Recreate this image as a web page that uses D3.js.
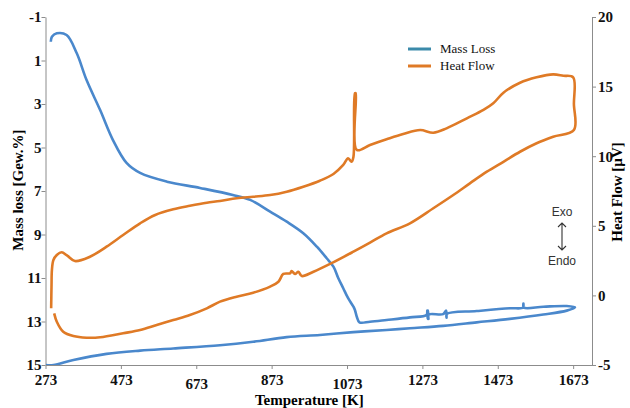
<!DOCTYPE html>
<html>
<head>
<meta charset="utf-8">
<script src="https://cdn.jsdelivr.net/npm/d3@7"></script>
<style>
  body { margin: 0; background: #fff; }
  .axis path, .axis line { stroke: #8c8c8c; }
  .axis text { font-family: "Liberation Serif", "Times New Roman", serif; font-weight: bold; font-size: 15px; fill: #111; }
</style>
</head>
<body>
<svg id="chart"></svg>
<script>
// mass loss run (temperature K -> mass loss Gew.%)
const massTemp = [287, 290, 303, 329, 356, 382, 418, 452, 488, 524, 595, 683, 770, 816, 869, 913, 957, 993, 1019, 1037, 1050, 1063, 1076, 1090, 1094, 1099, 1106, 1134, 1178, 1240, 1284, 1286, 1287, 1288, 1289, 1290, 1328, 1336, 1337, 1338, 1417, 1505, 1540, 1541, 1542, 1594, 1656, 1678,
  1656, 1594, 1505, 1417, 1328, 1240, 1178, 1090, 1001, 913, 824, 736, 612, 524, 435, 347, 294, 274];
const massLoss = [0.14, -0.09, -0.25, -0.17, 0.67, 1.90, 3.28, 4.66, 5.71, 6.17, 6.57, 6.86, 7.18, 7.41, 7.95, 8.41, 8.94, 9.56, 10.09, 10.48, 11.01, 11.47, 11.93, 12.32, 12.47, 12.78, 13.04, 13.01, 12.93, 12.81, 12.70, 12.50, 12.88, 12.50, 12.88, 12.68, 12.66, 12.50, 12.82, 12.65, 12.52, 12.39, 12.36, 12.18, 12.36, 12.32, 12.29, 12.35,
  12.50, 12.68, 12.88, 13.04, 13.20, 13.31, 13.39, 13.49, 13.62, 13.72, 13.93, 14.09, 14.24, 14.34, 14.49, 14.77, 15.0, 15.0];

// heat flow run (temperature K -> µV)
const heatTemp = [288, 289, 290, 294, 303, 316, 330, 351, 391, 435, 479, 524, 564, 612, 656, 701, 736, 780, 824, 869, 913, 957, 1001, 1037, 1063, 1076, 1085, 1090, 1094, 1096, 1099, 1134, 1178, 1222, 1267, 1302, 1337, 1391, 1435, 1461, 1488, 1532, 1576, 1620, 1647, 1673, 1675, 1675,
  1620, 1576, 1532, 1488, 1444, 1399, 1355, 1302, 1240, 1178, 1134, 1090, 1028, 984, 953, 944, 935, 926, 922, 904, 891, 869, 824, 780, 736, 701, 656, 612, 568, 524, 479, 418, 382, 347, 320, 303, 296];
const heatFlow = [-0.93, 0.75, 1.82, 2.54, 2.90, 3.10, 2.87, 2.47, 2.78, 3.50, 4.34, 5.18, 5.78, 6.19, 6.44, 6.66, 6.78, 6.98, 7.09, 7.21, 7.45, 7.81, 8.24, 8.72, 9.37, 9.85, 9.60, 9.94, 14.52, 14.52, 10.45, 10.80, 11.21, 11.59, 11.88, 11.69, 12.00, 12.72, 13.32, 13.80, 14.56, 15.28, 15.67, 15.88, 15.78, 15.67, 13.75, 11.88,
  11.40, 10.93, 10.32, 9.60, 8.89, 8.05, 7.21, 6.26, 5.18, 4.46, 3.79, 3.14, 2.26, 1.70, 1.39, 1.70, 1.54, 1.75, 1.59, 1.54, 0.98, 0.63, 0.19, -0.09, -0.45, -0.93, -1.41, -1.77, -2.13, -2.49, -2.72, -3.01, -3.04, -2.92, -2.61, -1.89, -1.29];

const xTicks = [273, 473, 673, 873, 1073, 1273, 1473, 1673];
const leftTicks = [-1, 1, 3, 5, 7, 9, 11, 13, 15];
const rightTicks = [-5, 0, 5, 10, 15, 20];
const seriesNames = ["Mass Loss", "Heat Flow"];

const width = 630, height = 408;
const margin = { left: 45.5, right: 592, top: 17, bottom: 365 };

const svg = d3.select("#chart").attr("width", width).attr("height", height);

const x = d3.scaleLinear().domain([273, 1723]).range([margin.left, margin.right]);
const yL = d3.scaleLinear().domain([-1, 15]).range([margin.top, margin.bottom]);
const yR = d3.scaleLinear().domain([-5, 20]).range([margin.bottom, margin.top]);

const plain = d => String(d);

// axes
const xAxisG = svg.append("g").attr("class", "axis")
  .attr("transform", `translate(0,${margin.bottom})`)
  .call(d3.axisBottom(x).tickValues(xTicks).tickFormat(plain).tickSize(4).tickSizeOuter(0));
// labels 673 and 1073 sit a bit lower in the original
xAxisG.selectAll("text").attr("dy", d => (d === 673 || d === 1073) ? "1.1em" : "0.85em");

svg.append("g").attr("class", "axis")
  .attr("transform", `translate(${margin.left},0)`)
  .call(d3.axisLeft(yL).tickValues(leftTicks).tickFormat(plain).tickSize(4).tickSizeOuter(0))
  .selectAll("text").attr("x", -4);

svg.append("g").attr("class", "axis")
  .attr("transform", `translate(${margin.right},0)`)
  .call(d3.axisRight(yR).tickValues(rightTicks).tickFormat(plain).tickSize(4).tickSizeOuter(0))
  .selectAll("text").attr("x", 6);

// clip to plot area
svg.append("clipPath").attr("id", "plot")
  .append("rect")
  .attr("x", margin.left).attr("y", margin.top)
  .attr("width", margin.right - margin.left).attr("height", margin.bottom - margin.top);

const plot = svg.append("g").attr("clip-path", "url(#plot)");

const massLine = d3.line()
  .x(i => x(massTemp[i]))
  .y(i => yL(massLoss[i]))
  .curve(d3.curveCatmullRom.alpha(0.5));

const heatLine = d3.line()
  .x(i => x(heatTemp[i]))
  .y(i => yR(heatFlow[i]))
  .curve(d3.curveCatmullRom.alpha(0.5));

plot.append("path")
  .attr("d", massLine(d3.range(massTemp.length)))
  .attr("fill", "none")
  .attr("stroke", "#4a88cc")
  .attr("stroke-width", 2.6)
  .attr("stroke-linejoin", "round");

plot.append("path")
  .attr("d", heatLine(d3.range(heatTemp.length)))
  .attr("fill", "none")
  .attr("stroke", "#df7a26")
  .attr("stroke-width", 2.6)
  .attr("stroke-linejoin", "round");

// axis titles
svg.append("text")
  .attr("x", (x(273) + x(1673)) / 2)
  .attr("y", 405)
  .attr("text-anchor", "middle")
  .style("font-family", "'Liberation Serif', serif")
  .style("font-weight", "bold")
  .style("font-size", "15px")
  .text("Temperature [K]");

svg.append("text")
  .attr("transform", "translate(23,190) rotate(-90)")
  .attr("text-anchor", "middle")
  .style("font-family", "'Liberation Serif', serif")
  .style("font-weight", "bold")
  .style("font-size", "15px")
  .text("Mass loss [Gew.%]");

svg.append("text")
  .attr("transform", "translate(622,192) rotate(-90)")
  .attr("text-anchor", "middle")
  .style("font-family", "'Liberation Serif', serif")
  .style("font-weight", "bold")
  .style("font-size", "15px")
  .text("Heat Flow [µV]");

// legend
const legendColors = ["#3b8aaa", "#df7a26"];
const legend = svg.append("g").attr("transform", "translate(408,48)");
legend.selectAll("line")
  .data(seriesNames)
  .join("line")
  .attr("x1", 0).attr("x2", 23)
  .attr("y1", (d, i) => i * 17 + 1).attr("y2", (d, i) => i * 17 + 1)
  .attr("stroke", (d, i) => legendColors[i])
  .attr("stroke-width", 3);
legend.selectAll("text")
  .data(seriesNames)
  .join("text")
  .attr("x", 32)
  .attr("y", (d, i) => i * 17)
  .attr("dy", "0.35em")
  .style("font-family", "'Liberation Serif', serif")
  .style("font-size", "13px")
  .style("fill", "#111")
  .text(d => d);

// Exo / Endo marker
const mark = svg.append("g").attr("transform", "translate(562,0)");
mark.append("text").attr("y", 216).attr("text-anchor", "middle")
  .style("font-family", "'Liberation Sans', Arial, sans-serif").style("font-size", "12px").style("fill", "#333")
  .text("Exo");
mark.append("text").attr("y", 265).attr("text-anchor", "middle")
  .style("font-family", "'Liberation Sans', Arial, sans-serif").style("font-size", "12px").style("fill", "#333")
  .text("Endo");
mark.append("path")
  .attr("d", "M0,223 L0,250 M-4,227 L0,223 L4,227 M-4,246 L0,250 L4,246")
  .attr("fill", "none").attr("stroke", "#333").attr("stroke-width", 1.1);
</script>
</body>
</html>
